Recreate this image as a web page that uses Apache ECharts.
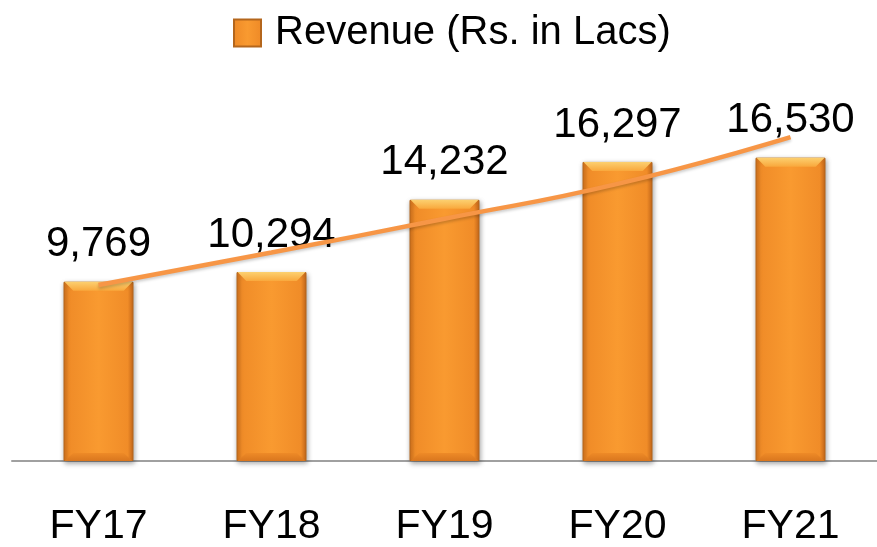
<!DOCTYPE html>
<html>
<head>
<meta charset="utf-8">
<script src="https://cdn.jsdelivr.net/npm/echarts@6/dist/echarts.min.js"></script>
<style>
html,body{margin:0;padding:0;background:#fff;}
#chart{width:877px;height:547px;}
</style>
</head>
<body>
<div id="chart"></div>
<script>
const categories = ['FY17', 'FY18', 'FY19', 'FY20', 'FY21'];
const revenue = [9769, 10294, 14232, 16297, 16530];
const trend = [9590, 11360, 13200, 15100, 17650];
const seriesName = 'Revenue (Rs. in Lacs)';

const chart = echarts.init(document.getElementById('chart'));
const barFill = new echarts.graphic.LinearGradient(0, 0, 1, 0, [
  { offset: 0, color: '#D6741C' },
  { offset: 0.08, color: '#F08C28' },
  { offset: 0.5, color: '#F99A30' },
  { offset: 0.92, color: '#F08C28' },
  { offset: 1, color: '#C9691A' }
]);
const topBevel = new echarts.graphic.LinearGradient(0, 0, 0, 1, [
  { offset: 0, color: '#FCD070' },
  { offset: 1, color: '#F9A83C' }
]);
const bottomBevel = new echarts.graphic.LinearGradient(0, 0, 0, 1, [
  { offset: 0, color: '#EE8A27' },
  { offset: 1, color: '#D9761E' }
]);
chart.setOption({
  animation: false,
  backgroundColor: '#ffffff',
  legend: {
    data: [seriesName],
    left: 228,
    top: 8,
    itemWidth: 27,
    itemHeight: 27,
    icon: 'rect',
    textStyle: {
      fontFamily: 'Liberation Sans, Arial, sans-serif',
      fontSize: 40,
      color: '#000',
      padding: [0, 0, 0, 9]
    }
  },
  grid: { left: 12, width: 870, top: 94, bottom: 86, containLabel: false },
  xAxis: {
    type: 'category',
    data: categories,
    axisTick: { show: false },
    axisLine: { lineStyle: { color: '#A0A0A0', width: 2 } },
    axisLabel: {
      margin: 45,
      fontFamily: 'Liberation Sans Narrow, Liberation Sans, Arial, sans-serif',
      fontSize: 41,
      color: '#000'
    }
  },
  yAxis: {
    type: 'value', min: 0, max: 20000, show: false,
    splitLine: { show: false }
  },
  series: [
    {
      name: seriesName,
      type: 'bar',
      data: revenue,
      barWidth: 70,
      itemStyle: {
        color: barFill,
        borderColor: '#B4661C',
        borderWidth: 1,
        shadowColor: 'rgba(0,0,0,0.35)',
        shadowBlur: 5,
        shadowOffsetX: 1,
        shadowOffsetY: 2
      },
      label: {
        show: true,
        position: 'top',
        distance: 16,
        formatter: p => p.value.toLocaleString('en-US'),
        fontFamily: 'Liberation Sans, Arial, sans-serif',
        fontSize: 42,
        color: '#000'
      },
      z: 2
    },
    {
      name: 'topBevel',
      type: 'pictorialBar',
      data: revenue,
      symbol: 'path://M0,0 L70,0 L61,9 L9,9 Z',
      symbolSize: [68, 9],
      symbolPosition: 'end',
      symbolOffset: [0, 0],
      itemStyle: { color: topBevel },
      silent: true,
      z: 3
    },
    {
      name: 'bottomBevel',
      type: 'pictorialBar',
      data: revenue,
      symbol: 'path://M9,0 L61,0 L70,9 L0,9 Z',
      symbolSize: [68, 8],
      symbolPosition: 'start',
      itemStyle: { color: bottomBevel },
      silent: true,
      z: 3
    },
    {
      name: 'Trend',
      type: 'line',
      data: trend,
      smooth: true,
      showSymbol: false,
      symbol: 'none',
      lineStyle: {
        color: '#F79646', width: 4.5,
        shadowColor: 'rgba(0,0,0,0.2)', shadowBlur: 3, shadowOffsetY: 2
      },
      z: 4,
      silent: true
    }
  ]
});
</script>
</body>
</html>
